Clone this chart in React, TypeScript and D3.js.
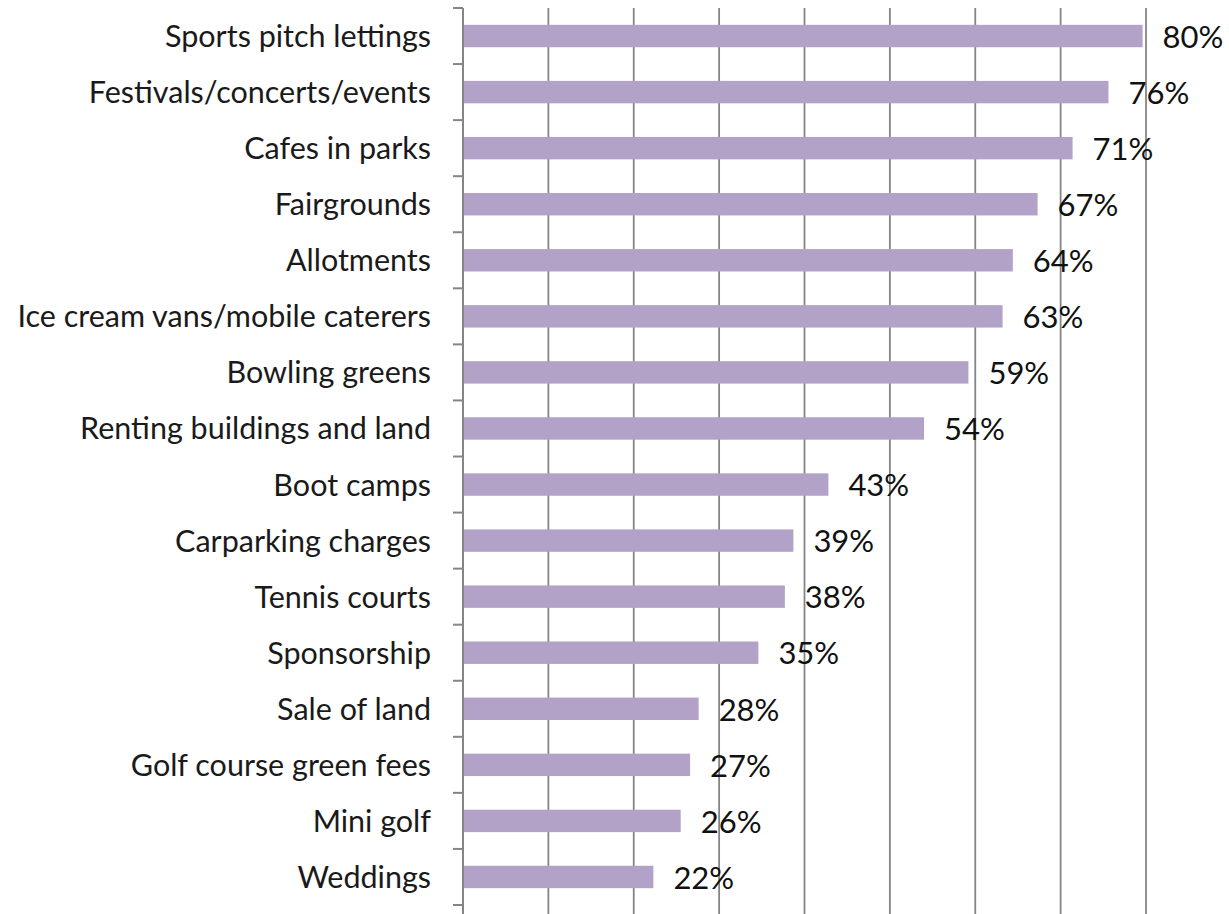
import React from "react";
import * as d3 from "d3";

const categories = [
  "Sports pitch lettings",
  "Festivals/concerts/events",
  "Cafes in parks",
  "Fairgrounds",
  "Allotments",
  "Ice cream vans/mobile caterers",
  "Bowling greens",
  "Renting buildings and land",
  "Boot camps",
  "Carparking charges",
  "Tennis courts",
  "Sponsorship",
  "Sale of land",
  "Golf course green fees",
  "Mini golf",
  "Weddings",
];
const values = [79.6, 75.6, 71.4, 67.3, 64.4, 63.2, 59.2, 54.0, 42.8, 38.7, 37.7, 34.6, 27.6, 26.6, 25.5, 22.3];
const gridTicks = [10, 20, 30, 40, 50, 60, 70, 80];

const W = 1229;
const H = 914;
const left = 463;
const right = 1146;
const top = 8;
const bottom = 905;

export default function App() {
  const x = d3.scaleLinear().domain([0, 80]).range([left, right]);
  const y = d3
    .scaleBand<string>()
    .domain(categories)
    .range([top, bottom])
    .paddingInner(0.6)
    .paddingOuter(0.3);
  const boundaries = d3.range(categories.length + 1).map((i) => top + i * y.step());
  const font = "Lato, 'Open Sans', sans-serif";
  const grid = "#858585";
  return (
    <svg
      width={W}
      height={H}
      style={{ position: "absolute", left: 0, top: 0, background: "#fff" }}
    >
      {gridTicks.map((t) => (
        <line key={t} x1={x(t)} x2={x(t)} y1={top} y2={H} stroke={grid} strokeWidth={1.8} />
      ))}
      {categories.map((c, i) => (
        <rect
          key={c}
          x={x(0)}
          y={y(c)!}
          width={x(values[i]) - x(0)}
          height={y.bandwidth()}
          fill="#b3a2c7"
        />
      ))}
      <line x1={left} x2={left} y1={top} y2={H} stroke={grid} strokeWidth={2} />
      {boundaries.map((b, i) => (
        <line key={i} x1={left - 10} x2={left} y1={b} y2={b} stroke={grid} strokeWidth={2} />
      ))}
      {categories.map((c) => (
        <text
          key={c}
          x={431}
          y={y(c)! + y.bandwidth() / 2}
          dy="0.36em"
          textAnchor="end"
          fontFamily={font}
          fontSize={30.5}
          fill="#1a1a1a"
        >
          {c}
        </text>
      ))}
      {categories.map((c, i) => (
        <text
          key={c}
          x={x(values[i]) + 20}
          y={y(c)! + y.bandwidth() / 2}
          dy="0.38em"
          fontFamily={font}
          fontSize={31}
          fill="#111"
        >
          {Math.round(values[i]) + "%"}
        </text>
      ))}
    </svg>
  );
}
